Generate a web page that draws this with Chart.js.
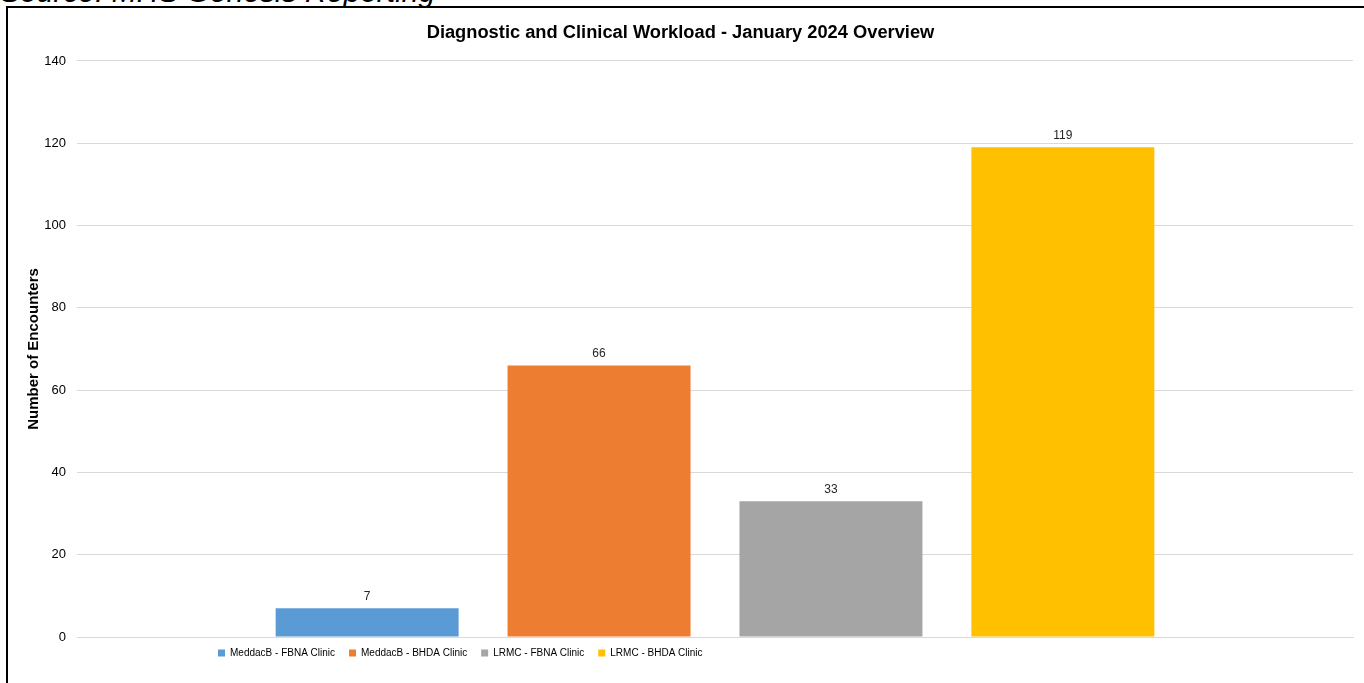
<!DOCTYPE html>
<html>
<head>
<meta charset="utf-8">
<script src="https://cdn.jsdelivr.net/npm/chart.js@4/dist/chart.umd.min.js"></script>
<style>
    body { margin: 0; background: #fff; overflow: hidden; }
    #source {
        position: absolute; left: 0; top: -23px;
        font: italic 30px "Liberation Sans", Arial, sans-serif;
        line-height: 30px; color: #000; white-space: nowrap;
    }
    #frame {
        position: absolute; left: 6px; top: 6px; width: 1356px; height: 690px;
        border-left: 2px solid #000; border-top: 2px solid #000; border-right: 1px solid #a0a0a0;
        background: #fff;
    }
    #chart { display: block; }
</style>
</head>
<body>
<div id="source">Source: MHS Genesis Reporting</div>
<div id="frame"><canvas id="chart" width="1355" height="675"></canvas></div>
<script>
'use strict';

// Values
const categories = ['January 2024'];
const seriesNames = ['MeddacB - FBNA Clinic', 'MeddacB - BHDA Clinic', 'LRMC - FBNA Clinic', 'LRMC - BHDA Clinic'];
const seriesValues = [7, 66, 33, 119];
const seriesColors = ['#5B9BD5', '#ED7D31', '#A5A5A5', '#FFC000'];
const yTicks = [0, 20, 40, 60, 80, 100, 120, 140];

const FONT = '"Liberation Sans", Arial, sans-serif';


// draw the value above each bar
const barLabels = {
    id: 'barLabels',
    afterDatasetsDraw(chart) {
        const ctx = chart.ctx;
        ctx.save();
        ctx.font = '12px ' + FONT;
        ctx.fillStyle = '#262626';
        ctx.textAlign = 'center';
        ctx.textBaseline = 'bottom';
        chart.data.datasets.forEach((ds, i) => {
            chart.getDatasetMeta(i).data.forEach((bar, j) => {
                ctx.fillText(ds.data[j], bar.x, bar.y - 6);
            });
        });
        ctx.restore();
    }
};

// Excel puts the legend left of centre, close under the axis
const legendShift = {
    id: 'legendShift',
    afterLayout(chart) {
        chart.legend.left = 196;
        chart.legend.top -= 11;
        chart.legend.bottom -= 11;
    }
};


const datasets = seriesNames.map((name, i) => ({
    label: name,
    data: [seriesValues[i]],
    backgroundColor: seriesColors[i],
    borderWidth: 0
}));

new Chart(document.getElementById('chart'), {
    type: 'bar',
    data: { labels: categories, datasets: datasets },
    options: {
        responsive: false,
        animation: false,
        events: [],
        categoryPercentage: 0.727,
        barPercentage: 0.789,
        layout: { padding: { left: 0, right: 10, top: 0, bottom: 4 } },
        plugins: {
            title: {
                display: true,
                text: 'Diagnostic and Clinical Workload - January 2024 Overview',
                color: '#000',
                font: { family: FONT, size: 18.3, weight: 'bold' },
                padding: { top: 14, bottom: 17 }
            },
            legend: {
                position: 'bottom',
                align: 'start',
                fullSize: true,
                labels: {
                    boxWidth: 7,
                    boxHeight: 7,
                    padding: 14,
                    color: '#000',
                    font: { family: FONT, size: 10 }
                }
            },
            tooltip: { enabled: false }
        },
        scales: {
            x: {
                ticks: { display: false },
                grid: { display: false },
                border: { display: true, color: '#D9D9D9' }
            },
            y: {
                min: 0,
                max: 140,
                afterBuildTicks(scale) {
                    scale.ticks = yTicks.map(v => ({ value: v }));
                },
                afterFit(scale) {
                    scale.width = 69;
                },
                ticks: {
                    padding: 11,
                    color: '#000',
                    font: { family: FONT, size: 13 }
                },
                grid: { color: '#D9D9D9', drawTicks: false },
                border: { display: false },
                title: {
                    display: true,
                    text: 'Number of Encounters',
                    color: '#000',
                    font: { family: FONT, size: 15, weight: 'bold' },
                    padding: { top: 17, bottom: 0 }
                }
            }
        }
    },
    plugins: [barLabels, legendShift]
});
</script>
</body>
</html>
